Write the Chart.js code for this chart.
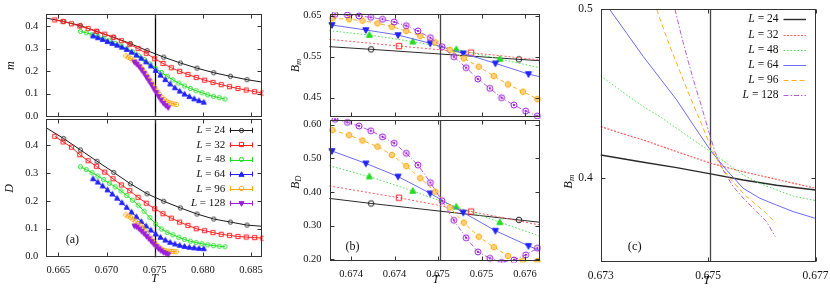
<!DOCTYPE html>
<html>
<head>
<meta charset="utf-8">
<script src="https://cdn.jsdelivr.net/npm/chart.js@4.4.1/dist/chart.umd.min.js"></script>
<style>
  html, body { margin: 0; padding: 0; background: #fff; }
  #wrap { position: relative; width: 830px; height: 288px; overflow: hidden; }
  #wrap canvas { position: absolute; left: 0; top: 0; }
</style>
</head>
<body>
<div id="wrap">
  <canvas id="aTop" width="830" height="288"></canvas>
  <canvas id="aBot" width="830" height="288"></canvas>
  <canvas id="bTop" width="830" height="288"></canvas>
  <canvas id="bBot" width="830" height="288"></canvas>
  <canvas id="cMain" width="830" height="288"></canvas>
</div>
<script>
// ---- data ----
const sizes = [24, 32, 48, 64, 96, 128]

// panel (a): order parameter m and D vs T
const aT24 = [0.66377, 0.66556, 0.66729, 0.66902, 0.67075, 0.67248, 0.67421, 0.67594, 0.67767, 0.67940, 0.68113, 0.68286, 0.68459, 0.68606]
const aM24 = [0.435, 0.420, 0.402, 0.375, 0.350, 0.322, 0.291, 0.262, 0.236, 0.213, 0.193, 0.177, 0.162, 0.152]
const aD24 = [0.463, 0.425, 0.384, 0.343, 0.303, 0.262, 0.226, 0.199, 0.175, 0.153, 0.135, 0.124, 0.113, 0.109]

const aT32 = [0.66463, 0.66549, 0.66636, 0.66722, 0.66809, 0.66895, 0.66981, 0.67068, 0.67154, 0.67241, 0.67327, 0.67413, 0.67500, 0.67586, 0.67673, 0.67759, 0.67845, 0.67932, 0.68018, 0.68105, 0.68191, 0.68277, 0.68364, 0.68450, 0.68537, 0.68623]
const aM32 = [0.427, 0.420, 0.410, 0.400, 0.389, 0.377, 0.364, 0.350, 0.335, 0.319, 0.300, 0.279, 0.255, 0.234, 0.215, 0.199, 0.185, 0.172, 0.160, 0.150, 0.140, 0.131, 0.123, 0.116, 0.109, 0.103]
const aD32 = [0.433, 0.413, 0.394, 0.367, 0.345, 0.325, 0.304, 0.280, 0.258, 0.237, 0.213, 0.192, 0.172, 0.154, 0.138, 0.124, 0.112, 0.100, 0.093, 0.086, 0.080, 0.076, 0.072, 0.070, 0.068, 0.066]

const aT48 = [0.6673, 0.6679, 0.6685, 0.6691, 0.6697, 0.6703, 0.6709, 0.6715, 0.6721, 0.6727, 0.6733, 0.6739, 0.6745, 0.6751, 0.6757, 0.6763, 0.6769, 0.6775, 0.6781, 0.6787, 0.6793, 0.6799, 0.6805, 0.6811, 0.6817, 0.6823]
const aM48 = [0.376, 0.370, 0.362, 0.353, 0.344, 0.334, 0.323, 0.312, 0.299, 0.285, 0.269, 0.252, 0.232, 0.212, 0.194, 0.177, 0.161, 0.147, 0.134, 0.123, 0.113, 0.104, 0.095, 0.088, 0.082, 0.076]
const aD48 = [0.323, 0.313, 0.302, 0.290, 0.277, 0.264, 0.251, 0.236, 0.220, 0.203, 0.185, 0.163, 0.140, 0.117, 0.099, 0.087, 0.078, 0.069, 0.061, 0.055, 0.050, 0.046, 0.042, 0.039, 0.037, 0.035]

const aT64 = [0.6686, 0.6691, 0.6696, 0.6701, 0.6706, 0.6711, 0.6716, 0.6721, 0.6726, 0.6731, 0.6736, 0.6741, 0.6746, 0.6751, 0.6756, 0.6761, 0.6766, 0.6771, 0.6776, 0.6781, 0.6786, 0.6791, 0.6796, 0.6801]
const aM64 = [0.356, 0.348, 0.340, 0.331, 0.323, 0.315, 0.306, 0.296, 0.284, 0.271, 0.257, 0.241, 0.223, 0.203, 0.182, 0.162, 0.143, 0.126, 0.111, 0.098, 0.087, 0.077, 0.069, 0.062]
const aD64 = [0.280, 0.268, 0.254, 0.240, 0.225, 0.210, 0.194, 0.177, 0.160, 0.143, 0.126, 0.110, 0.095, 0.081, 0.069, 0.059, 0.051, 0.045, 0.040, 0.036, 0.033, 0.031, 0.029, 0.028]

const aT96 = [0.6720, 0.67225, 0.6725, 0.67275, 0.6730, 0.67325, 0.6735, 0.67375, 0.6740, 0.67425, 0.6745, 0.67475, 0.6750, 0.67525, 0.6755, 0.67575, 0.6760, 0.67625, 0.6765, 0.67675, 0.6770, 0.67725]
const aM96 = [0.268, 0.262, 0.256, 0.249, 0.240, 0.231, 0.220, 0.207, 0.192, 0.177, 0.161, 0.144, 0.128, 0.112, 0.097, 0.084, 0.074, 0.066, 0.061, 0.057, 0.054, 0.052]
const aD96 = [0.150, 0.146, 0.141, 0.134, 0.127, 0.119, 0.112, 0.103, 0.093, 0.082, 0.070, 0.059, 0.049, 0.040, 0.032, 0.026, 0.022, 0.020, 0.019, 0.018, 0.018, 0.017]

const aT128 = [0.6729, 0.67315, 0.6734, 0.67365, 0.6739, 0.67415, 0.6744, 0.67465, 0.6749, 0.67515, 0.6754, 0.67565, 0.6759, 0.67615, 0.6764]
const aM128 = [0.240, 0.231, 0.219, 0.205, 0.190, 0.173, 0.157, 0.140, 0.122, 0.105, 0.088, 0.072, 0.058, 0.047, 0.038]
const aD128 = [0.110, 0.106, 0.099, 0.091, 0.082, 0.073, 0.064, 0.054, 0.045, 0.036, 0.028, 0.021, 0.015, 0.011, 0.007]

// panel (b): Binder cumulants B_m and B_D near T_c
const bT24 = [0.67375, 0.67423, 0.67593, 0.67617]
const bM24 = [0.5744, 0.5679, 0.5435, 0.5402]
const bD24 = [0.381, 0.366, 0.317, 0.310]

const bT32 = [0.67375, 0.67455, 0.67538, 0.67617]
const bM32 = [0.5923, 0.5760, 0.5598, 0.5420]
const bD32 = [0.418, 0.383, 0.342, 0.302]

const bT48 = [0.67375, 0.67421, 0.67471, 0.67521, 0.67571, 0.67617]
const bM48 = [0.6134, 0.6028, 0.5866, 0.5679, 0.5443, 0.5232]
const bD48 = [0.478, 0.446, 0.403, 0.356, 0.310, 0.269]

const bT64 = [0.67378, 0.67417, 0.67454, 0.67491, 0.67529, 0.67566, 0.67604, 0.67617]
const bM64 = [0.6272, 0.6150, 0.6028, 0.5825, 0.5581, 0.5337, 0.5077, 0.5012]
const bD64 = [0.522, 0.485, 0.446, 0.396, 0.339, 0.285, 0.240, 0.226]

const bT96 = [0.673785, 0.673977, 0.674131, 0.674304, 0.674469, 0.674635, 0.674796, 0.674969, 0.675135, 0.675296, 0.675469, 0.675642, 0.675804, 0.675977, 0.676142]
const bM96 = [0.6435, 0.6411, 0.6378, 0.6313, 0.6232, 0.6126, 0.6004, 0.5850, 0.5663, 0.5459, 0.5256, 0.5028, 0.4825, 0.4646, 0.4467]
const bD96 = [0.584, 0.569, 0.553, 0.535, 0.510, 0.477, 0.441, 0.401, 0.354, 0.309, 0.267, 0.236, 0.210, 0.196, 0.195]

const bT128 = [0.673815, 0.673958, 0.674092, 0.674227, 0.674362, 0.674496, 0.674635, 0.674769, 0.674912, 0.675046, 0.675181, 0.675323, 0.675458, 0.675596, 0.675731, 0.675873, 0.676008, 0.676142]
const bM128 = [0.6532, 0.6516, 0.6492, 0.6459, 0.6411, 0.6346, 0.6256, 0.6126, 0.5963, 0.5744, 0.5500, 0.5232, 0.4955, 0.4728, 0.4500, 0.4321, 0.4175, 0.4053]
const bD128 = [0.616, 0.607, 0.596, 0.582, 0.564, 0.545, 0.515, 0.480, 0.428, 0.374, 0.316, 0.264, 0.222, 0.203, 0.191, 0.198, 0.213, 0.233]

// panel (c): B_m curves, zoomed
const cT24 = [0.673000, 0.673794, 0.674414, 0.675047, 0.675654, 0.676274, 0.677000]
const cB24 = [0.4138, 0.4095, 0.4063, 0.4026, 0.3990, 0.3959, 0.3931]
const cT32 = [0.673000, 0.673484, 0.673794, 0.674414, 0.675047, 0.675654, 0.676274, 0.677000]
const cB32 = [0.4306, 0.4256, 0.4227, 0.4158, 0.4089, 0.4039, 0.3994, 0.3941]
const cT48 = [0.673000, 0.673484, 0.673794, 0.674104, 0.674414, 0.674724, 0.675047, 0.675344, 0.675654, 0.675964, 0.676274, 0.676585, 0.677000]
const cB48 = [0.4606, 0.4493, 0.4424, 0.4365, 0.4296, 0.4227, 0.4158, 0.4089, 0.4020, 0.3970, 0.3931, 0.3895, 0.3868]
const cT64 = [0.673174, 0.673484, 0.673794, 0.674104, 0.674414, 0.674724, 0.675047, 0.675344, 0.675654, 0.675964, 0.676274, 0.676585, 0.677000]
const cB64 = [0.4996, 0.4858, 0.4720, 0.4592, 0.4464, 0.4316, 0.4164, 0.4049, 0.3941, 0.3882, 0.3842, 0.3803, 0.3763]
const cT96 = [0.674042, 0.674166, 0.674290, 0.674476, 0.674662, 0.674848, 0.675047, 0.675220, 0.675406, 0.675654, 0.675902, 0.676088, 0.676250]
const cB96 = [0.5000, 0.4888, 0.4779, 0.4631, 0.4483, 0.4345, 0.4187, 0.4079, 0.4000, 0.3911, 0.3842, 0.3793, 0.3738]
const cT128 = [0.674383, 0.674507, 0.674631, 0.674755, 0.674879, 0.675003, 0.675127, 0.675282, 0.675468, 0.675685, 0.675902, 0.676088, 0.676250]
const cB128 = [0.5000, 0.4838, 0.4690, 0.4552, 0.4424, 0.4286, 0.4158, 0.4049, 0.3951, 0.3872, 0.3803, 0.3744, 0.3655]

// ticks
const aXTicks = [0.665, 0.670, 0.675, 0.680, 0.685]
const aXLabels = ['0.665', '0.670', '0.675', '0.680', '0.685']
const aYTicks = [0.0, 0.1, 0.2, 0.3, 0.4]
const aYLabels = ['0.0', '0.1', '0.2', '0.3', '0.4']
const bXTicks = [0.6740, 0.6745, 0.6750, 0.6755, 0.6760]
const bXLabels = ['0.674', '0.674', '0.675', '0.675', '0.676']
const bMTicks = [0.45, 0.55, 0.65]
const bMLabels = ['0.45', '0.55', '0.65']
const bDTicks = [0.20, 0.30, 0.40, 0.50, 0.60]
const bDLabels = ['0.20', '0.30', '0.40', '0.50', '0.60']
const cXTicks = [0.673, 0.675, 0.677]
const cXLabels = ['0.673', '0.675', '0.677']
const cYTicks = [0.4, 0.5]
const cYLabels = ['0.4', '0.5']

// critical temperature markers
const aTc = 0.675
const bTc = 0.67502
const cTc = 0.67503

// ---- styling ----
const FONT = '"Liberation Serif", "Times New Roman", serif'
const YW = 40, XH = 26

const color = { 24: '#1a1a1a', 32: '#ff2020', 48: '#20dd20', 64: '#2222ff', 96: '#ffa500', 128: '#9a20d6' }
const soft = { 24: '#2a2a2a', 32: '#ff5a5a', 48: '#4ee04e', 64: '#6b6bff', 96: '#ffae22', 128: '#b45ee2' }

// marker images (gnuplot-like point types)
function marker(shape, col, r, fill) {
  const s = Math.ceil(2 * r + 4)
  const cv = document.createElement('canvas')
  cv.width = s; cv.height = s
  const g = cv.getContext('2d')
  const c = s / 2
  g.strokeStyle = col
  g.lineWidth = 1
  g.beginPath()
  if (shape === 'circle' || shape === 'circleDot') {
    g.arc(c, c, r, 0, Math.PI * 2)
  } else if (shape === 'square') {
    g.rect(c - r, c - r, 2 * r, 2 * r)
  } else if (shape === 'triUp') {
    g.moveTo(c, c - r * 1.2); g.lineTo(c + r * 1.1, c + r * 0.8); g.lineTo(c - r * 1.1, c + r * 0.8); g.closePath()
  } else if (shape === 'triDown') {
    g.moveTo(c, c + r * 1.2); g.lineTo(c + r * 1.1, c - r * 0.8); g.lineTo(c - r * 1.1, c - r * 0.8); g.closePath()
  } else if (shape === 'pent') {
    for (let i = 0; i < 8; i++) {
      const a = Math.PI / 8 + i * Math.PI / 4
      const px = c + r * Math.cos(a), py = c + r * Math.sin(a)
      if (i === 0) g.moveTo(px, py); else g.lineTo(px, py)
    }
    g.closePath()
  }
  if (fill) { g.fillStyle = fill; g.fill() }
  g.stroke()
  if (shape === 'circleDot') {
    g.beginPath(); g.arc(c, c, r * 0.38, 0, Math.PI * 2); g.fillStyle = col; g.fill()
  }
  return cv
}

const aMarks = {
  24: marker('circle', '#333', 2.1),
  32: marker('square', color[32], 2.1),
  48: marker('circle', color[48], 2.1),
  64: marker('triUp', color[64], 2.3, color[64]),
  96: marker('pent', color[96], 2.3),
  128: marker('triDown', color[128], 2.3, color[128])
}
const bMarks = {
  24: marker('circle', '#222', 2.8),
  32: marker('square', color[32], 2.7),
  48: marker('triUp', color[48], 2.8, color[48]),
  64: marker('triDown', color[64], 2.8, color[64]),
  96: marker('pent', color[96], 2.9, '#ffd07a'),
  128: marker('circleDot', color[128], 3.0)
}
const bDash = { 24: [], 32: [2, 2], 48: [1.5, 2], 64: [], 96: [4, 3], 128: [5, 2, 1, 2] }
const cDash = { 24: [], 32: [2, 1.5], 48: [1.5, 2], 64: [], 96: [5, 3], 128: [5, 2, 1.5, 2] }

// which end points only carry the line (no marker drawn)
const aLineOnly = { 24: 'both' }
const bLineOnly = { 24: 'both', 32: 'both', 48: 'both', 64: 'last' }

function series(xs, ys, o) {
  const n = xs.length
  const skip = i => (o.lineOnly === 'both' && (i === 0 || i === n - 1)) || (o.lineOnly === 'last' && i === n - 1)
  return {
    data: xs.map((x, i) => ({ x, y: ys[i] })),
    showLine: true,
    borderColor: o.line,
    borderWidth: o.width || 1,
    borderDash: o.dash || [],
    pointStyle: o.mark || 'circle',
    pointRadius: ctx => (o.mark && !skip(ctx.dataIndex) ? 3 : 0),
    tension: 0,
    fill: false,
    clip: 2
  }
}

function axis(ax, horiz) {
  return {
    type: 'linear',
    min: ax.min,
    max: ax.max,
    afterBuildTicks: s => { s.ticks = ax.ticks.map(v => ({ value: v })) },
    ticks: {
      display: ax.show !== false,
      autoSkip: false,
      maxRotation: 0,
      padding: horiz ? 7 : 8,
      color: '#111',
      font: { family: FONT, size: ax.size || 10.5 },
      callback: (v, i) => ax.labels[i]
    },
    grid: { display: false, drawTicks: false },
    border: { display: false },
    afterFit: s => {
      if (horiz) s.height = XH; else s.width = YW
      s.paddingLeft = 0; s.paddingRight = 0; s.paddingTop = 0; s.paddingBottom = 0
    }
  }
}

function rich(ctx, parts, x, y, align, rotate) {
  ctx.save()
  ctx.translate(x, y)
  if (rotate) ctx.rotate(-Math.PI / 2)
  ctx.textBaseline = 'middle'
  ctx.fillStyle = '#111'
  const fontOf = q => `${q.italic ? 'italic ' : ''}${q.size}px ${FONT}`
  let w = 0
  parts.forEach(q => { ctx.font = fontOf(q); w += ctx.measureText(q.t).width })
  let cx = align === 'right' ? -w : align === 'center' ? -w / 2 : 0
  parts.forEach(q => {
    ctx.font = fontOf(q)
    ctx.fillText(q.t, cx, q.dy || 0)
    cx += ctx.measureText(q.t).width
  })
  ctx.restore()
}

function panelPlugin(p) {
  return {
    id: 'panelDeco',
    beforeDatasetsDraw(chart) {
      const { ctx, chartArea: a, scales: { x } } = chart
      const px = Math.round(x.getPixelForValue(p.tc)) + 0.5
      ctx.save()
      ctx.strokeStyle = p.tcColor
      ctx.lineWidth = 1.3
      ctx.beginPath(); ctx.moveTo(px, a.top); ctx.lineTo(px, a.bottom); ctx.stroke()
      ctx.restore()
    },
    afterDraw(chart) {
      const { ctx, chartArea: a, scales: { x, y } } = chart
      ctx.save()
      ctx.strokeStyle = '#333'
      ctx.lineWidth = 1
      const L = Math.round(a.left) + 0.5, R = Math.round(a.right) - 0.5
      const T = Math.round(a.top) + 0.5, B = Math.round(a.bottom) - 0.5
      ctx.strokeRect(L, T, R - L, B - T)
      const tl = 4
      ctx.beginPath()
      x.ticks.forEach(t => {
        const px = Math.round(x.getPixelForValue(t.value)) + 0.5
        ctx.moveTo(px, B); ctx.lineTo(px, B - tl)
        ctx.moveTo(px, T); ctx.lineTo(px, T + tl)
      })
      y.ticks.forEach(t => {
        const py = Math.round(y.getPixelForValue(t.value)) + 0.5
        ctx.moveTo(L, py); ctx.lineTo(L + tl, py)
        ctx.moveTo(R, py); ctx.lineTo(R - tl, py)
      })
      ctx.stroke()
      ctx.restore()

      if (p.yTitle) rich(ctx, p.yTitle, a.left - p.yTitleGap, (a.top + a.bottom) / 2 + (p.yTitleShift || 0), 'center', true)
      if (p.xTitle) rich(ctx, p.xTitle, x.getPixelForValue(p.tc) - (p.xTitleBack || 0), a.bottom + p.xTitleGap, 'center', false)
      if (p.tag) rich(ctx, [{ t: p.tag, size: p.tagSize || 12 }], a.left + p.tagPos[0], a.bottom - p.tagPos[1], 'center', false)
      if (p.legend) drawLegend(ctx, a, p.legend)
    }
  }
}

function drawLegend(ctx, a, lg) {
  sizes.forEach((L, i) => {
    const yy = a.top + lg.top + i * lg.step
    const xr = a.right - lg.right
    rich(ctx, [{ t: 'L', italic: true, size: lg.size }, { t: ' = ' + L, size: lg.size }], xr - lg.gap - lg.len, yy, 'right', false)
    const x0 = xr - lg.len, x1 = xr
    ctx.save()
    ctx.strokeStyle = lg.lineCol[L]
    ctx.lineWidth = lg.width ? lg.width[L] || 1 : 1
    ctx.setLineDash(lg.dash ? lg.dash[L] : [])
    ctx.beginPath(); ctx.moveTo(x0, Math.round(yy) + 0.5); ctx.lineTo(x1, Math.round(yy) + 0.5); ctx.stroke()
    ctx.setLineDash([])
    if (lg.caps) {
      ctx.beginPath()
      ctx.moveTo(Math.round(x0) + 0.5, yy - 2.5); ctx.lineTo(Math.round(x0) + 0.5, yy + 2.5)
      ctx.moveTo(Math.round(x1) - 0.5, yy - 2.5); ctx.lineTo(Math.round(x1) - 0.5, yy + 2.5)
      ctx.stroke()
    }
    if (lg.marks) {
      const m = lg.marks[L]
      ctx.drawImage(m, Math.round((x0 + x1) / 2 - m.width / 2), Math.round(yy - m.height / 2))
    }
    ctx.restore()
  })
}

function buildChart(id, p) {
  const box = p.box
  return new Chart(document.getElementById(id), {
    type: 'scatter',
    data: { datasets: p.datasets },
    options: {
      responsive: false,
      animation: false,
      devicePixelRatio: 1,
      events: [],
      layout: { padding: { left: box.l - YW, top: box.t, right: 830 - box.r, bottom: 288 - box.b - XH } },
      plugins: { legend: { display: false }, tooltip: { enabled: false } },
      scales: { x: axis(p.x, true), y: axis(p.y, false) }
    },
    plugins: [panelPlugin(p)]
  })
}

// ---- panel (a) ----
const aData = { 24: [aT24, aM24, aD24], 32: [aT32, aM32, aD32], 48: [aT48, aM48, aD48], 64: [aT64, aM64, aD64], 96: [aT96, aM96, aD96], 128: [aT128, aM128, aD128] }
const aSets = col => sizes.slice().reverse().map(L => series(aData[L][0], aData[L][col], {
  line: color[L], mark: aMarks[L], lineOnly: aLineOnly[L]
}))
const aX = { min: 0.66375, max: 0.68611, ticks: aXTicks, labels: aXLabels }

buildChart('aTop', {
  box: { l: 46.3, r: 261.7, t: 14.3, b: 117 },
  datasets: aSets(1),
  x: Object.assign({}, aX, { show: false }),
  y: { min: -0.0035, max: 0.452, ticks: aYTicks, labels: aYLabels },
  tc: aTc, tcColor: '#000',
  yTitle: [{ t: 'm', italic: true, size: 12 }], yTitleGap: 35
})
buildChart('aBot', {
  box: { l: 46.3, r: 261.7, t: 119.3, b: 257.3 },
  datasets: aSets(2),
  x: aX,
  y: { min: -0.003, max: 0.4944, ticks: aYTicks, labels: aYLabels },
  tc: aTc, tcColor: '#000',
  yTitle: [{ t: 'D', italic: true, size: 12 }], yTitleGap: 36,
  xTitle: [{ t: 'T', italic: true, size: 12 }], xTitleGap: 22,
  tag: '(a)', tagPos: [26, 17],
  legend: { top: 11, step: 14.6, right: 9, len: 23, gap: 4.5, size: 11, lineCol: color, caps: true, marks: aMarks }
})

// ---- panel (b) ----
const bData = { 24: [bT24, bM24, bD24], 32: [bT32, bM32, bD32], 48: [bT48, bM48, bD48], 64: [bT64, bM64, bD64], 96: [bT96, bM96, bD96], 128: [bT128, bM128, bD128] }
const bSets = col => sizes.slice().reverse().map(L => series(bData[L][0], bData[L][col], {
  line: soft[L], mark: bMarks[L], dash: bDash[L], lineOnly: bLineOnly[L]
}))
const bX = { min: 0.673752, max: 0.676167, ticks: bXTicks, labels: bXLabels }

buildChart('bTop', {
  box: { l: 329.5, r: 539.5, t: 14, b: 117 },
  datasets: bSets(1),
  x: Object.assign({}, bX, { show: false }),
  y: { min: 0.403, max: 0.654, ticks: bMTicks, labels: bMLabels },
  tc: bTc, tcColor: '#444',
  yTitle: [{ t: 'B', italic: true, size: 12 }, { t: 'm', italic: true, size: 8.5, dy: 3 }], yTitleGap: 34
})
buildChart('bBot', {
  box: { l: 329.5, r: 539.5, t: 120, b: 260.5 },
  datasets: bSets(2),
  x: bX,
  y: { min: 0.1964, max: 0.614, ticks: bDTicks, labels: bDLabels },
  tc: bTc, tcColor: '#444',
  yTitle: [{ t: 'B', italic: true, size: 12 }, { t: 'D', italic: true, size: 8.5, dy: 3 }], yTitleGap: 34, yTitleShift: -8,
  xTitle: [{ t: 'T', italic: true, size: 12 }], xTitleGap: 19, xTitleBack: 4,
  tag: '(b)', tagPos: [23, 14]
})

// ---- panel (c) ----
const cData = { 24: [cT24, cB24], 32: [cT32, cB32], 48: [cT48, cB48], 64: [cT64, cB64], 96: [cT96, cB96], 128: [cT128, cB128] }
const cWidth = { 24: 1.4, 32: 1.2, 48: 1, 64: 1, 96: 1, 128: 1 }
buildChart('cMain', {
  box: { l: 600.7, r: 815.5, t: 9.3, b: 262 },
  datasets: sizes.slice().reverse().map(L => series(cData[L][0], cData[L][1], {
    line: soft[L], dash: cDash[L], width: cWidth[L]
  })),
  x: { min: 0.673, max: 0.677, ticks: cXTicks, labels: cXLabels, size: 11.5 },
  y: { min: 0.3505, max: 0.5, ticks: cYTicks, labels: cYLabels, size: 11.5 },
  tc: cTc, tcColor: '#444',
  yTitle: [{ t: 'B', italic: true, size: 12.5 }, { t: 'm', italic: true, size: 9, dy: 3 }], yTitleGap: 32, yTitleShift: 46,
  xTitle: [{ t: 'T', italic: true, size: 12.5 }], xTitleGap: 19, xTitleBack: 3,
  tag: '(c)', tagPos: [34, 15], tagSize: 12.5,
  legend: { top: 10, step: 15.2, right: 9.5, len: 22.5, gap: 5, size: 11.5, lineCol: soft, dash: cDash, width: cWidth }
})
</script>
</body>
</html>
